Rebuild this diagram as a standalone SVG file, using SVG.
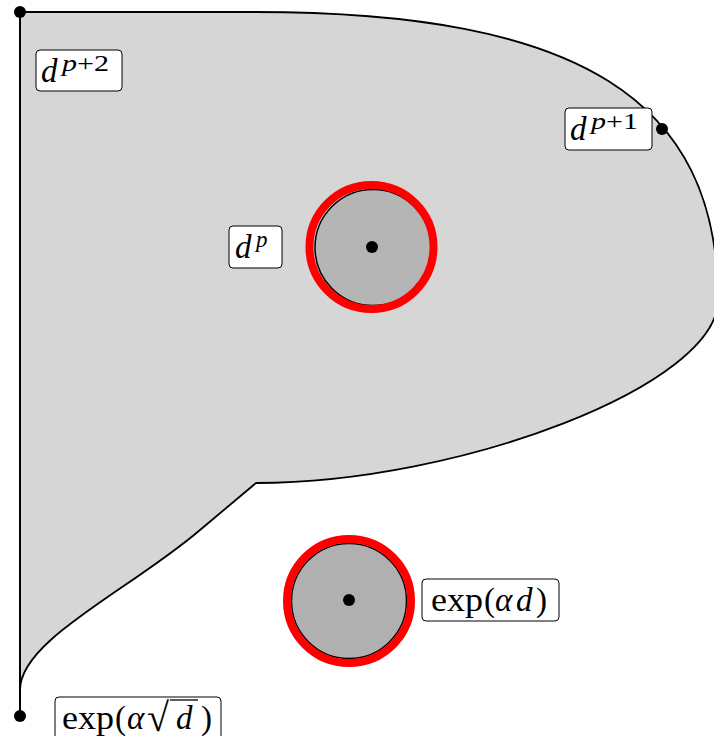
<svg xmlns="http://www.w3.org/2000/svg" width="714" height="736" viewBox="0 0 714 736">
<style>
.lbl{fill:#fff;stroke:#000;stroke-width:1}
.t{font-family:"Liberation Serif","Times New Roman",serif;font-size:33px;fill:#000}
.i{font-style:italic}
.s{font-family:"Liberation Serif","Times New Roman",serif;font-size:23px;fill:#000}
.dot{fill:#000}
.ring{fill:none;stroke:#ff0000;stroke-width:8}
</style>
<rect width="714" height="736" fill="#fff"/>
<g id="region">
<path d="M20,12 L255,12 C580,12 718,100 718,300 C718,385 460,483 256,483 L200,530 C130,590 20,640 20,690 Z" fill="#d6d6d6" stroke="#000" stroke-width="1.8" stroke-linejoin="round"/>
<line x1="20" y1="12" x2="20" y2="716" stroke="#000" stroke-width="2"/>
</g>
<g id="ball-top">
<circle cx="373" cy="247.5" r="58" fill="#b5b5b5" stroke="#000" stroke-width="1.5"/>
<circle cx="371.5" cy="247" r="62" class="ring"/>
<circle cx="372" cy="247" r="6" class="dot"/>
</g>
<g id="ball-bottom">
<circle cx="349" cy="601" r="57.5" fill="#b0b0b0" stroke="#000" stroke-width="1.5"/>
<circle cx="349" cy="601" r="62" class="ring"/>
<circle cx="349" cy="600" r="6" class="dot"/>
</g>
<g id="points">
<circle cx="20" cy="12" r="6" class="dot"/>
<circle cx="662" cy="129" r="6" class="dot"/>
<circle cx="20" cy="716" r="6" class="dot"/>
</g>
<g id="label-dp2">
<rect x="36" y="50" width="86" height="41" rx="4" class="lbl"/>
<text x="41" y="82" class="t i">d</text>
<text x="62" y="71" class="s" textLength="47" lengthAdjust="spacingAndGlyphs"><tspan class="i">p</tspan>+2</text>
</g>
<g id="label-dp1">
<rect x="565" y="108" width="87" height="42" rx="4" class="lbl"/>
<text x="570" y="140" class="t i">d</text>
<text x="591" y="129" class="s" textLength="47" lengthAdjust="spacingAndGlyphs"><tspan class="i">p</tspan>+1</text>
</g>
<g id="label-dp">
<rect x="229" y="226" width="53" height="42" rx="4" class="lbl"/>
<text x="235" y="258" class="t i">d</text>
<text x="256" y="247" class="s i">p</text>
</g>
<g id="label-expad">
<rect x="422" y="579" width="137" height="42" rx="4" class="lbl"/>
<text y="611" class="t"><tspan x="431" textLength="52" lengthAdjust="spacingAndGlyphs">exp</tspan><tspan x="484">(</tspan><tspan x="495" class="i">α</tspan><tspan x="516" class="i">d</tspan><tspan x="536">)</tspan></text>
</g>
<g id="label-expasqrtd">
<rect x="55" y="697" width="166" height="45" rx="4" class="lbl"/>
<text y="729" class="t"><tspan x="62" textLength="52" lengthAdjust="spacingAndGlyphs">exp</tspan><tspan x="115">(</tspan><tspan x="127" class="i">α</tspan><tspan x="176" class="i">d</tspan><tspan x="201">)</tspan></text>
<text x="147" y="731" font-family="Liberation Serif, serif" font-size="40" fill="#000">√</text>
<line x1="170" y1="700" x2="198" y2="700" stroke="#000" stroke-width="1.3"/>
</g>
</svg>
